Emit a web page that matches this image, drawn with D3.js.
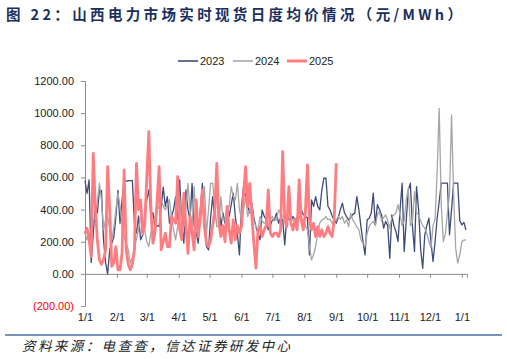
<!DOCTYPE html>
<html><head><meta charset="utf-8">
<script src="https://cdn.jsdelivr.net/npm/d3@7"></script>
<style>
html,body{margin:0;padding:0;background:#fff;}
svg{display:block;}
</style></head>
<body><svg id="c" width="507" height="359"></svg>
<script>
// ---- data ----
const titleText = "图 22：山西电力市场实时现货日度均价情况（元/MWh）";
const sourceText = "资料来源：电查查，信达证券研发中心";
const seriesNames = ["2023", "2024", "2025"];
const stepDays = 2; // one value every two days, starting 1/1
const monthLabels = ["1/1","2/1","3/1","4/1","5/1","6/1","7/1","8/1","9/1","10/1","11/1","12/1","1/1"];
const yTickValues = [-200, 0, 200, 400, 600, 800, 1000, 1200];

const v2023 = [580,500,585,70,250,420,380,520,520,210,70,0,150,190,230,357,520,315,460,585,
575,580,580,580,315,254,360,212,240,360,460,522,360,380,290,300,295,420,540,420,
480,315,357,400,481,340,585,300,191,522,400,336,563,300,253,191,400,563,300,170,
149,350,481,336,563,420,294,380,315,420,357,430,502,357,250,118,420,543,480,419,
380,440,350,294,250,212,398,360,336,274,300,336,336,378,315,350,336,180,357,340,
330,357,336,350,380,398,370,357,350,118,460,420,481,420,398,520,595,595,419,398,
360,336,315,350,400,440,380,357,336,350,370,378,481,400,294,200,118,336,346,378,
502,305,430,400,367,284,326,300,97,367,300,264,201,400,564,139,330,522,564,300,
139,543,400,150,35,243,300,346,200,77,200,346,450,564,564,564,564,243,400,564,
564,564,330,305,320,273];

const v2024 = [253,212,240,274,330,357,450,564,460,274,336,357,280,212,290,400,502,419,300,230,
190,150,67,100,150,220,274,357,300,274,200,170,253,320,357,398,420,460,420,398,
430,460,350,274,212,295,481,320,294,400,563,400,274,543,300,274,398,398,543,253,
400,563,564,440,294,294,481,336,336,398,420,543,480,460,563,400,336,400,481,357,
400,440,330,294,274,357,330,315,320,294,340,357,330,336,398,378,357,340,336,357,
340,336,330,315,357,340,336,300,274,170,87,120,170,250,315,336,340,357,336,340,
315,330,336,357,340,357,315,336,294,378,336,315,294,274,212,190,170,253,294,315,
326,300,367,388,330,350,367,330,284,350,367,380,430,367,300,330,460,533,300,320,
512,380,367,330,300,284,250,201,160,300,340,637,1030,430,201,250,380,492,989,492,
160,67,120,201,210,211];

const v2025 = [253,284,212,108,750,419,212,88,60,88,150,667,400,46,70,170,25,25,130,647,
150,60,25,60,150,688,400,460,250,300,600,885,400,191,260,450,667,150,200,253,
170,170,357,336,315,605,274,212,502,300,128,357,253,150,460,232,350,522,294,191,
170,212,300,390,688,315,232,300,200,419,274,191,336,212,300,253,294,500,667,420,
563,357,191,36,274,294,232,274,300,522,253,232,253,253,232,274,761,336,294,543,
315,274,336,274,585,336,274,378,678,336,274,315,232,294,232,274,232,253,294,253,
232,336,688];

const seriesColors = ["#3e4b78", "#a6a6a6", "#ff7c80"];
const seriesWidths = [1.3, 1.3, 2.8];

// ---- drawing ----
const svg = d3.select("#c");
const font = "'Liberation Sans', Arial, sans-serif";
const cjk = "'Noto Sans CJK SC', sans-serif";

const start = new Date(2024, 0, 1);
const x = d3.scaleTime()
  .domain([start, d3.timeDay.offset(start, 371)])
  .range([85, 467]);
const y = d3.scaleLinear().domain([-200, 1200]).range([306, 81]);

// title
svg.append("text")
  .attr("x", 6).attr("y", 20)
  .attr("textLength", 456).attr("lengthAdjust", "spacing")
  .style("font-family", cjk).style("font-weight", "bold")
  .style("font-size", "14.5px").style("fill", "#1b2f5c")
  .text(titleText);

// legend
const legend = svg.append("g");
const legX = [178, 233, 287];
seriesNames.forEach((n, i) => {
  legend.append("line")
    .attr("x1", legX[i]).attr("x2", legX[i] + 20)
    .attr("y1", 61).attr("y2", 61)
    .attr("stroke", seriesColors[i]).attr("stroke-width", i === 2 ? 3 : 1.6);
  legend.append("text")
    .attr("x", legX[i] + 22).attr("y", 65)
    .style("font-family", font).style("font-size", "11px").style("fill", "#222")
    .text(n);
});

// y axis
const yAxis = d3.axisLeft(y).tickValues(yTickValues).tickSize(4)
  .tickFormat(v => v < 0 ? "(" + d3.format(".2f")(-v) + ")" : d3.format(".2f")(v));
const gy = svg.append("g").attr("transform", "translate(85,0)").call(yAxis);
gy.select(".domain").attr("stroke", "#8c8c8c");
gy.selectAll(".tick line").attr("stroke", "#8c8c8c");
gy.selectAll(".tick text")
  .attr("x", -11)
  .style("font-family", font).style("font-size", "11px")
  .style("fill", d => d < 0 ? "#ff0000" : "#222");

// x axis at value 0
const monthTicks = d3.range(13).map(m => new Date(2024, m, 1));
const xAxis = d3.axisBottom(x).tickValues(monthTicks).tickSize(4)
  .tickFormat((d, i) => monthLabels[i]);
const gx = svg.append("g").attr("transform", `translate(0,${y(0)})`).call(xAxis);
gx.select(".domain").attr("stroke", "#8c8c8c");
gx.selectAll(".tick line").attr("stroke", "#8c8c8c");
gx.selectAll(".tick text")
  .attr("y", y(-200) - y(0) + 7)
  .style("font-family", font).style("font-size", "11px").style("fill", "#222");

// lines
const line = d3.line()
  .x((d, i) => x(d3.timeDay.offset(start, i * stepDays)))
  .y(d => y(d));
[v2023, v2024, v2025].forEach((vals, k) => {
  svg.append("path")
    .datum(vals)
    .attr("fill", "none")
    .attr("stroke", seriesColors[k])
    .attr("stroke-width", seriesWidths[k])
    .attr("stroke-linejoin", "round")
    .attr("d", line);
});

// separator + source
svg.append("line").attr("x1", 5).attr("x2", 502).attr("y1", 335).attr("y2", 335)
  .attr("stroke", "#4f6fa0").attr("stroke-width", 1.5);
svg.append("text")
  .attr("x", 22).attr("y", 351)
  .attr("textLength", 268).attr("lengthAdjust", "spacing")
  .style("font-family", cjk).style("font-size", "13.5px").style("font-style", "italic")
  .style("fill", "#222")
  .text(sourceText);
</script>
</body></html>
